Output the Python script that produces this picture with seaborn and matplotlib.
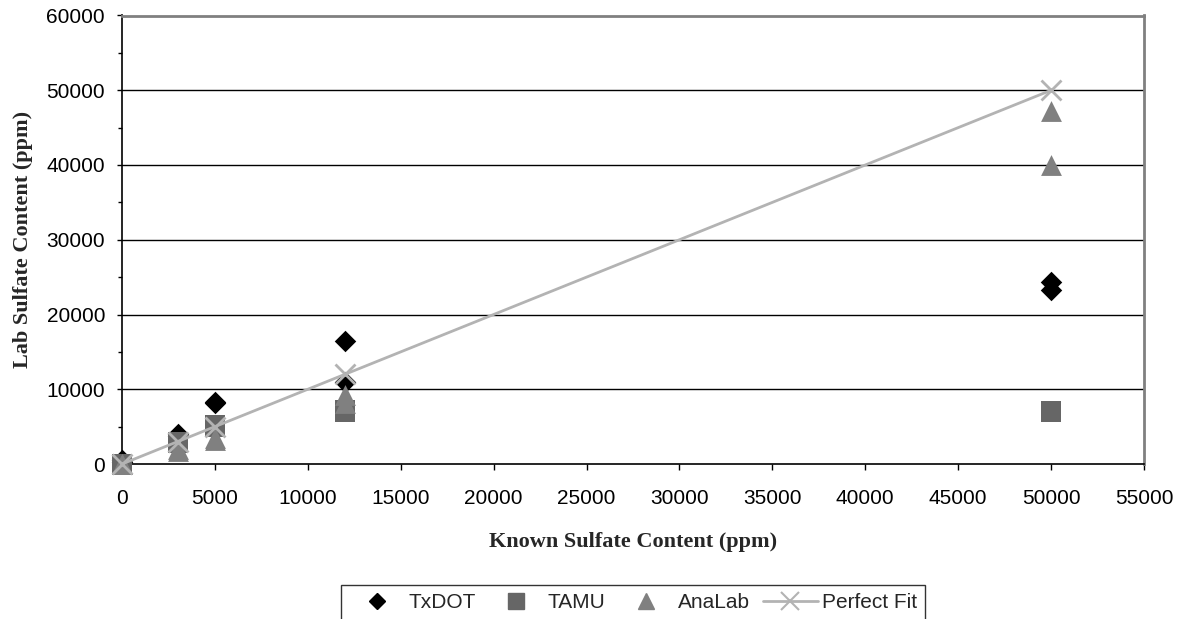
import numpy as np
import pandas as pd
import matplotlib
matplotlib.use("Agg")
import matplotlib.pyplot as plt
from matplotlib.ticker import MultipleLocator
import seaborn as sns

# Known sulfate content (ppm), two replicate readings per sample
known = [0, 0, 3000, 3000, 5000, 5000, 12000, 12000, 50000, 50000]

txdot = [500, 300, 4000, 3800, 8200, 8300, 16500, 11000, 24300, 23300]
tamu = [0, 0, 3000, 2800, 5000, 5200, 7000, 7200, 7000, 7100]
analab = [0, 0, 2000, 1700, 3500, 3200, 9200, 8200, 47200, 40000]

fit_x = [0, 3000, 5000, 12000, 50000]
fit_y = [0, 3000, 5000, 12000, 50000]

labs = ["TxDOT", "TAMU", "AnaLab"]
lab_values = {"TxDOT": txdot, "TAMU": tamu, "AnaLab": analab}


def build_frame() -> pd.DataFrame:
    rows = []
    for lab in labs:
        for k, v in zip(known, lab_values[lab]):
            rows.append({"known": k, "lab": v, "source": lab})
    return pd.DataFrame(rows)


def main() -> None:
    sns.set_style("white")
    plt.rcParams["font.family"] = ["Liberation Sans", "DejaVu Sans"]

    df = build_frame()

    fig = plt.figure(figsize=(11.83, 6.19), dpi=100)
    ax = fig.add_axes([122 / 1183, 1 - 464 / 619, (1144 - 122) / 1183, (464 - 15.5) / 619])

    # horizontal grid at major ticks
    for yv in range(10000, 60000, 10000):
        ax.axhline(yv, color="black", lw=1.0, zorder=0)

    palette = {"TxDOT": "#000000", "TAMU": "#666666", "AnaLab": "#808080"}
    markers = {"TxDOT": "D", "TAMU": "s", "AnaLab": "^"}
    sizes = {"TxDOT": 120, "TAMU": 210, "AnaLab": 225}
    # series order as in the original: later series sit on top
    for lab in labs:
        sub = df[df["source"] == lab]
        sns.scatterplot(
            data=sub, x="known", y="lab", ax=ax, color=palette[lab],
            marker=markers[lab], s=sizes[lab], linewidth=0,
            zorder=3, legend=False, clip_on=False,
        )

    fit_color = "#b3b3b3"
    sns.lineplot(
        x=fit_x, y=fit_y, ax=ax, color=fit_color, lw=2.0,
        marker="x", markersize=15, markeredgewidth=2.0,
        markeredgecolor=fit_color, zorder=4, legend=False, clip_on=False,
    )

    ax.set_xlim(0, 55000)
    ax.set_ylim(0, 60000)
    ax.xaxis.set_major_locator(MultipleLocator(5000))
    ax.yaxis.set_major_locator(MultipleLocator(10000))
    ax.yaxis.set_minor_locator(MultipleLocator(5000))
    ax.tick_params(axis="both", which="major", direction="out",
                   width=1, colors="black", labelsize=15)
    ax.tick_params(axis="x", which="major", length=4.3, pad=14, bottom=True)
    ax.tick_params(axis="y", which="major", length=3.6, pad=8.6, left=True)
    ax.tick_params(axis="y", which="minor", direction="out", length=3,
                   width=1, colors="black", left=True)

    for side in ["left", "bottom"]:
        ax.spines[side].set_color("black")
        ax.spines[side].set_linewidth(1.2)
    for side in ["top", "right"]:
        ax.spines[side].set_color("#808080")
        ax.spines[side].set_linewidth(2.0)

    label_font = dict(family=["Liberation Serif", "DejaVu Serif"], weight="bold", size=16)
    ax.set_xlabel("Known Sulfate Content (ppm)", va="center", **label_font)
    ax.set_ylabel("Lab Sulfate Content (ppm)", va="center", **label_font)
    ax.xaxis.set_label_coords(0.5, -(542 - 464) / 448.5)
    ax.yaxis.set_label_coords(-(122 - 23) / 1022, 0.5)

    handles = [
        plt.Line2D([], [], ls="none", marker="D", color="#000000", markersize=8),
        plt.Line2D([], [], ls="none", marker="s", color="#666666", markersize=11),
        plt.Line2D([], [], ls="none", marker="^", color="#808080", markersize=11),
        plt.Line2D([], [], color=fit_color, lw=2, marker="x", markersize=13,
                   markeredgewidth=1.5),
    ]
    leg = fig.legend(
        handles, ["TxDOT", "TAMU", "AnaLab", "Perfect Fit"],
        loc="upper center", bbox_to_anchor=(633 / 1183, 1 - 585 / 619),
        ncol=4, frameon=True, fancybox=False, fontsize=15,
        handlelength=2.64, columnspacing=0.62, handletextpad=0.2,
        borderpad=0.4, borderaxespad=0,
    )
    leg.get_frame().set_edgecolor("black")
    leg.get_frame().set_linewidth(1.0)

    fig.savefig("out.png", dpi=100)
    plt.close(fig)


if __name__ == "__main__":
    main()
